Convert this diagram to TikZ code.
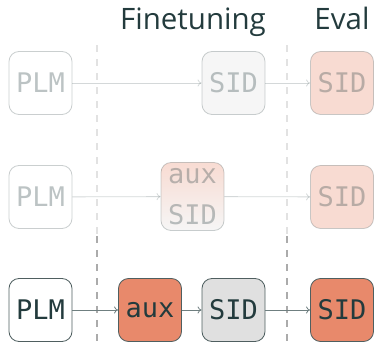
\documentclass[tikz,border=0pt]{standalone}
\usepackage{fontspec}
\usepackage{xcolor}
\usetikzlibrary{positioning,arrows.meta}
\setmainfont{Open Sans}
\newfontfamily\codefont{DejaVu Sans Mono}

\definecolor{ink}{HTML}{233B3D}
\definecolor{wire}{HTML}{6F7F80}
\definecolor{coral}{HTML}{E8896B}
\definecolor{lightgray}{HTML}{E0E0E0}
\definecolor{rim}{HTML}{4F5F60}
\definecolor{sep}{HTML}{ABABAB}

\tikzset{
  box/.style={draw=rim,rounded corners=10pt,minimum width=63pt,minimum height=63pt,
    line width=0.8pt,text=ink,font=\codefont\fontsize{27}{30}\selectfont,inner sep=0pt},
  faded/.style={opacity=0.3},
  link/.style={-{To[length=4pt,width=7pt]},draw=wire,line width=0.8pt},
  sepline/.style={draw=sep,line width=1.8pt,dash pattern=on 7pt off 7pt},
  title/.style={text=ink,font=\fontsize{29.5}{33}\selectfont,anchor=base}
}

\begin{document}
\begin{tikzpicture}[x=1pt,y=-1pt]
\useasboundingbox (0,0) rectangle (376,342);

% stage separators
\draw[sepline,opacity=0.35] (97,45) -- (97,236);
\draw[sepline] (97,236) -- (97,342);
\draw[sepline,opacity=0.35] (287,45) -- (287,236);
\draw[sepline] (287,236) -- (287,342);

\node[title] (ft) at (193,30) {Finetuning};
\node[title] (ev) at (342,30) {Eval};

% row 1
\node[box,faded,fill=white] (plmA) at (40.5,83) {PLM};
\node[box,faded,fill=lightgray] (sidA) at (233.5,83) {SID};
\node[box,faded,fill=coral] (evA) at (342,83) {SID};
\draw[link,faded] (plmA) -- (sidA);
\draw[link,faded] (sidA) -- (evA);

% row 2
\node[box,faded,fill=white] (plmB) at (40.5,197) {PLM};
\node[box,faded,top color=coral,bottom color=lightgray,minimum height=68pt] (mixB) at (192.5,196.5) {};
\node[text=ink,opacity=0.3,font=\codefont\fontsize{27}{30}\selectfont] (auxB) at (192.5,176) {aux};
\node[text=ink,opacity=0.3,font=\codefont\fontsize{27}{30}\selectfont] (sidB) at (192.5,215) {SID};
\node[box,faded,fill=coral] (evB) at (342,197) {SID};
\draw[link,faded] (plmB) -- (mixB);
\draw[link,faded] (mixB) -- (evB);

% row 3
\node[box,fill=white] (plmC) at (40.5,310) {PLM};
\node[box,fill=coral] (auxC) at (150,310) {aux};
\node[box,fill=lightgray] (sidC) at (233.5,310) {SID};
\node[box,fill=coral] (evC) at (342,310) {SID};
\draw[link] (plmC) -- (auxC);
\draw[link] (auxC) -- (sidC);
\draw[link] (sidC) -- (evC);
\end{tikzpicture}
\end{document}
